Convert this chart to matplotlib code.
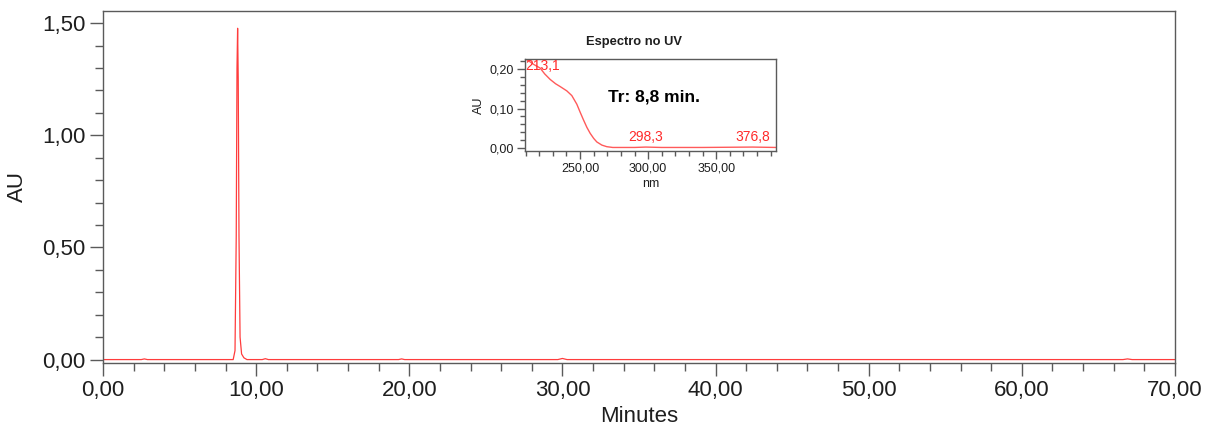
import numpy as np
import matplotlib
matplotlib.use("Agg")
import matplotlib.pyplot as plt
from matplotlib.ticker import MultipleLocator, FuncFormatter

plt.rcParams['font.family'] = ['Liberation Sans', 'DejaVu Sans']

# chromatogram trace (min, AU)
tempo = [0.0, 2.5, 2.7, 2.9, 8.50, 8.62, 8.70, 8.75, 8.79, 8.83, 8.88, 8.95, 9.05,
         9.20, 9.40, 10.4, 10.6, 10.8, 19.3, 19.5, 19.7, 29.7, 30.0, 30.3,
         66.6, 66.9, 67.2, 70.0]
absorb = [0.0, 0.0, 0.003, 0.0, 0.0, 0.04, 0.55, 1.30, 1.477, 1.25, 0.55, 0.10,
          0.025, 0.008, 0.0, 0.0, 0.004, 0.0, 0.0, 0.003, 0.0, 0.0, 0.005, 0.0,
          0.0, 0.003, 0.0, 0.0]

# UV spectrum at the peak (nm, AU)
comp_onda = [210, 213.1, 216, 220.6, 224, 228, 232, 235.3, 240.2, 243.9, 247.6,
             250, 252.5, 255, 257.4, 260, 262.3, 266, 269.6, 274, 280, 290,
             298.3, 310, 340, 376.8, 394]
espectro = [0.226, 0.219, 0.212, 0.203, 0.188, 0.174, 0.163, 0.156, 0.145,
            0.133, 0.111, 0.091, 0.071, 0.052, 0.037, 0.024, 0.015, 0.007,
            0.003, 0.001, 0.001, 0.001, 0.002, 0.001, 0.001, 0.002, 0.001]
picos_nm = [213.1, 298.3, 376.8]
picos_au = [0.219, 0.002, 0.002]
picos_txt = ['213,1', '298,3', '376,8']

tempo_ret = 'Tr: 8,8 min.'

virgula = FuncFormatter(lambda v, p: f'{v:.2f}'.replace('.', ','))
cinza = '#5a5a5a'
texto = '#1e1e1e'


def estilo_eixo(ax, maj_len, min_len, fs, pad):
    for s in ax.spines.values():
        s.set_color(cinza)
        s.set_linewidth(1.0)
    ax.tick_params(which='major', direction='out', length=maj_len, width=1.0,
                   color=cinza, labelsize=fs, labelcolor=texto, pad=pad)
    ax.tick_params(which='minor', direction='out', length=min_len, width=1.0,
                   color=cinza)
    ax.xaxis.set_major_formatter(virgula)
    ax.yaxis.set_major_formatter(virgula)


fig = plt.figure(figsize=(12.16, 4.32), dpi=100)

ax = fig.add_axes([103 / 1216, 1 - 362.5 / 432, 1072 / 1216, 351.5 / 432])
ax.plot(tempo, absorb, color='#ff3c3c', lw=0.9)
ax.set_xlim(0, 70)
ax.set_ylim(-0.013, 1.554)
ax.xaxis.set_major_locator(MultipleLocator(10))
ax.xaxis.set_minor_locator(MultipleLocator(2))
ax.yaxis.set_major_locator(MultipleLocator(0.5))
ax.yaxis.set_minor_locator(MultipleLocator(0.1))
estilo_eixo(ax, 9.5, 5.8, 16, 3)
ax.set_xlabel('Minutes', fontsize=16, color=texto, labelpad=4)
ax.set_ylabel('AU', fontsize=16, color=texto, labelpad=10)

# inset: UV spectrum
ins = fig.add_axes([525 / 1216, 1 - 151 / 432, 251 / 1216, 92 / 432])
ins.plot(comp_onda, espectro, color='#ff5a5a', lw=1.0)
ins.set_xlim(209.5, 394)
ins.set_ylim(-0.008, 0.226)
ins.xaxis.set_major_locator(MultipleLocator(50))
ins.xaxis.set_minor_locator(MultipleLocator(10))
ins.yaxis.set_major_locator(MultipleLocator(0.1))
ins.yaxis.set_minor_locator(MultipleLocator(0.02))
estilo_eixo(ins, 6, 3.5, 9, 2)
ins.set_xlabel('nm', fontsize=9, color=texto, labelpad=3)
ins.set_ylabel('AU', fontsize=9, color=texto, labelpad=3)

for nm, au, txt in zip(picos_nm, picos_au, picos_txt):
    if nm == picos_nm[0]:
        ins.annotate(txt, (nm, au), xytext=(-3, -3), textcoords='offset points',
                     ha='left', va='center', color='#ff2a2a', fontsize=10)
    else:
        ins.annotate(txt, (nm, au), xytext=(0, 2), textcoords='offset points',
                     ha='center', va='bottom', color='#ff2a2a', fontsize=10)

ins.text(0.33, 0.59, tempo_ret, transform=ins.transAxes, ha='left',
         va='center', fontsize=12.5, fontweight='bold', color='black')
fig.text(634 / 1216, 1 - 42 / 432, 'Espectro no UV', ha='center', va='center',
         fontsize=9.3, fontweight='bold', color=texto)

fig.savefig('out.png', dpi=100)
